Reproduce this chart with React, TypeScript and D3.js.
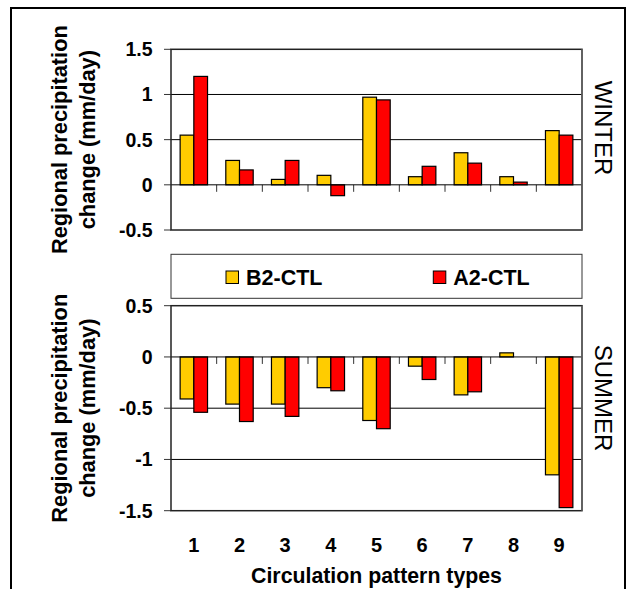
import React from "react";
import * as d3 from "d3";

const categories = ["1", "2", "3", "4", "5", "6", "7", "8", "9"];
const winterB2 = [0.55, 0.27, 0.06, 0.105, 0.97, 0.09, 0.355, 0.09, 0.6];
const winterA2 = [1.2, 0.165, 0.27, -0.12, 0.94, 0.205, 0.24, 0.03, 0.55];
const summerB2 = [-0.41, -0.46, -0.46, -0.3, -0.62, -0.09, -0.37, 0.04, -1.15];
const summerA2 = [-0.54, -0.63, -0.58, -0.33, -0.7, -0.22, -0.34, 0, -1.47];
const winterTicks = [1.5, 1, 0.5, 0, -0.5];
const summerTicks = [0.5, 0, -0.5, -1, -1.5];
const seriesNames = ["B2-CTL", "A2-CTL"];
const seriesColors = ["#FFCC00", "#FF0000"];

const FONT = "Arial, 'Liberation Sans', Helvetica, sans-serif";
const L = 171, R = 582;

function Panel({ b2, a2, domain, top, bottom, ticks, season, seasonY }: any) {
  const x = d3.scaleBand<string>().domain(categories).range([L, R]).padding(0);
  const y = d3.scaleLinear().domain(domain).range([top, bottom]);
  const bw = x.bandwidth() * 0.3;
  const y0 = y(0);
  const grid = ticks.filter((t: number) => t !== domain[0] && t !== domain[1] && t !== 0);
  return (
    <g>
      {grid.map((t: number) => (
        <line key={"g" + t} x1={L} x2={R} y1={y(t)} y2={y(t)} stroke="#000" strokeWidth={1} />
      ))}
      {ticks.map((t: number) => (
        <g key={"t" + t}>
          <line x1={164} x2={L} y1={y(t)} y2={y(t)} stroke="#333" strokeWidth={1} />
          <text x={152.5} y={y(t)} dy="0.36em" textAnchor="end" fontFamily={FONT} fontWeight="bold" fontSize={19.5}>
            {String(t)}
          </text>
        </g>
      ))}
      {categories.slice(1).map((c) => (
        <line key={"xt" + c} x1={x(c)!} x2={x(c)!} y1={y0} y2={y0 + 7} stroke="#333" strokeWidth={1} />
      ))}
      {categories.map((c, i) => {
        const cx = x(c)! + x.bandwidth() / 2;
        const vals = [b2[i], a2[i]];
        return vals.map((v: number, k: number) =>
          v === 0 ? null : (
            <rect
              key={c + k}
              x={cx - bw + k * bw}
              y={Math.min(y(v), y0)}
              width={bw}
              height={Math.abs(y(v) - y0)}
              fill={seriesColors[k]}
              stroke="#000"
              strokeWidth={1.2}
            />
          )
        );
      })}
      <line x1={L} x2={R} y1={y0} y2={y0} stroke="#000" strokeWidth={1} />
      <rect x={L} y={top} width={R - L} height={bottom - top} fill="none" stroke="#222" strokeWidth={1.5} />
      <line x1={R} x2={R} y1={top} y2={bottom} stroke="#666" strokeWidth={1.5} />
      <g transform={`translate(67, ${(top + bottom) / 2}) rotate(-90)`}>
        <text textAnchor="middle" fontFamily={FONT} fontWeight="bold" fontSize={21.8}>
          Regional precipitation
        </text>
      </g>
      <g transform={`translate(95, ${(top + bottom) / 2}) rotate(-90)`}>
        <text textAnchor="middle" fontFamily={FONT} fontWeight="bold" fontSize={21.8}>
          change (mm/day)
        </text>
      </g>
      <g transform={`translate(595, ${seasonY}) rotate(90)`}>
        <text textAnchor="middle" fontFamily={FONT} fontSize={24}>
          {season}
        </text>
      </g>
    </g>
  );
}

export default function App() {
  const x = d3.scaleBand<string>().domain(categories).range([L, R]).padding(0);
  return (
    <svg width={628} height={589} style={{ position: "absolute", left: 0, top: 0, background: "#fff" }}>
      <rect x={0} y={0} width={628} height={589} fill="#fff" />
      <rect x={11} y={8} width={614} height={620} fill="none" stroke="#000" strokeWidth={2} />
      <Panel b2={winterB2} a2={winterA2} domain={[1.5, -0.5]} top={49.3} bottom={230} ticks={winterTicks} season="WINTER" seasonY={128} />
      <Panel b2={summerB2} a2={summerA2} domain={[0.5, -1.5]} top={305.7} bottom={510.7} ticks={summerTicks} season="SUMMER" seasonY={398} />
      <rect x={L} y={254.3} width={R - L} height={44} fill="#fff" stroke="#333" strokeWidth={1} />
      {seriesNames.map((s, i) => {
        const mx = i === 0 ? 226 : 433.3;
        return (
          <g key={s}>
            <rect x={mx} y={271} width={12.5} height={12.5} fill={seriesColors[i]} stroke="#000" strokeWidth={1} />
            <text x={mx + 20} y={284.5} fontFamily={FONT} fontWeight="bold" fontSize={21.5}>
              {s}
            </text>
          </g>
        );
      })}
      {categories.map((c) => (
        <text key={c} x={x(c)! + x.bandwidth() / 2} y={545} dy="0.36em" textAnchor="middle" fontFamily={FONT} fontWeight="bold" fontSize={20}>
          {c}
        </text>
      ))}
      <text x={(L + R) / 2} y={575} dy="0.36em" textAnchor="middle" fontFamily={FONT} fontWeight="bold" fontSize={21.3}>
        Circulation pattern types
      </text>
    </svg>
  );
}
